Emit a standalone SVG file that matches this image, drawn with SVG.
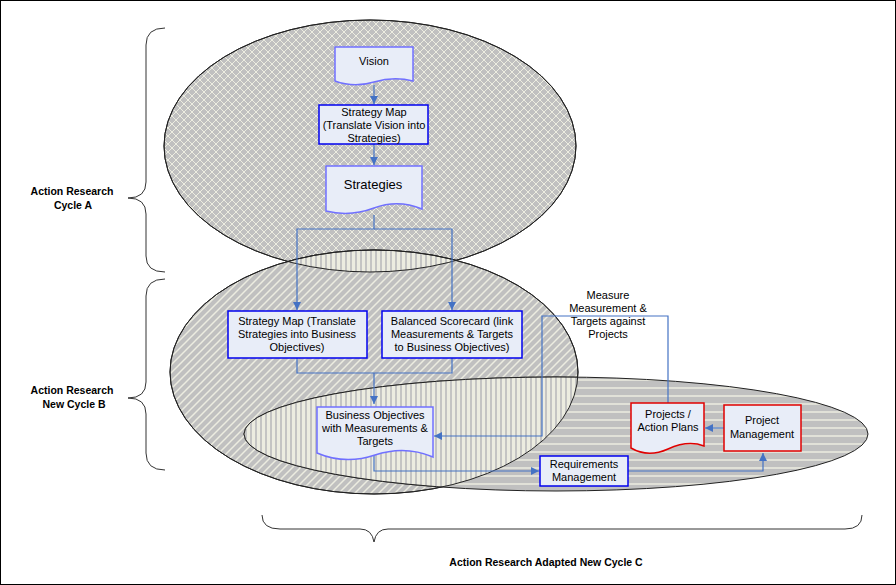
<svg xmlns="http://www.w3.org/2000/svg" width="896" height="585" viewBox="0 0 896 585">
<defs>
<pattern id="pA" width="8" height="8" patternUnits="userSpaceOnUse"><rect width="8" height="8" fill="#c0c0c0"/><path d="M0 0L8 8M8 0L0 8" stroke="#ecece0" stroke-width="1"/></pattern>
<pattern id="pB" width="8" height="8" patternUnits="userSpaceOnUse"><rect width="8" height="8" fill="#c0c0c0"/><path d="M-2 10L10 -2M-2 2L2 -2M6 10L10 6" stroke="#ecece0" stroke-width="1.5"/></pattern>
<pattern id="pC" width="8" height="8" patternUnits="userSpaceOnUse"><rect width="8" height="8" fill="#c0c0c0"/><path d="M0 4H8" stroke="#ecece0" stroke-width="1.5"/></pattern>
<pattern id="pV" width="5" height="5" patternUnits="userSpaceOnUse"><rect width="5" height="5" fill="#ecece0"/><path d="M1 0V5" stroke="#c0c0c0" stroke-width="1.8"/></pattern>
<clipPath id="cA"><ellipse cx="370" cy="146" rx="206" ry="126"/></clipPath>
<clipPath id="cB"><ellipse cx="374" cy="372" rx="204" ry="122"/></clipPath>
<marker id="ar" viewBox="0 0 10 10" refX="10" refY="5" markerWidth="7" markerHeight="7" orient="auto"><path d="M0 0L10 5L0 10z" fill="#4472c4"/></marker>
</defs>
<style>
.t{font-family:"Liberation Sans",Arial,sans-serif;font-size:11px;fill:#000;text-anchor:middle}
.b{font-weight:bold;font-size:10.5px}
.box{fill:#e8edf8;stroke:#0000ee;stroke-width:1.5}
.red{fill:#e8edf8;stroke:#e00000;stroke-width:1.5}
.doc{fill:#e8edf8;stroke:#7070ff;stroke-width:1.5}
.c{fill:none;stroke:#4472c4;stroke-width:1.2}
.br{fill:none;stroke:#333;stroke-width:1}
.el{stroke:#222;stroke-width:1}
</style>
<rect x="0.5" y="0.5" width="895" height="584" fill="#fff" stroke="#000"/>
<g id="ellipses">
<ellipse class="el" cx="370" cy="146" rx="206" ry="126" fill="url(#pA)"/>
<ellipse class="el" cx="374" cy="372" rx="204" ry="122" fill="url(#pB)"/>
<ellipse class="el" cx="556" cy="434" rx="312" ry="57" fill="url(#pC)"/>
<ellipse cx="374" cy="372" rx="204" ry="122" fill="url(#pV)" clip-path="url(#cA)" class="el"/>
<ellipse cx="556" cy="434" rx="312" ry="57" fill="url(#pV)" clip-path="url(#cB)" class="el"/>
<ellipse cx="374" cy="372" rx="204" ry="122" fill="none" class="el"/>
<ellipse cx="370" cy="146" rx="206" ry="126" fill="none" class="el"/>
</g>
<g id="braces">
<path class="br" d="M165 28Q146 28 146 45V182Q146 198 128 198Q146 198 146 214V256Q146 272 165 272"/>
<path class="br" d="M165 279Q146 279 146 296V382Q146 398 128 398Q146 398 146 414V453Q146 470 165 470"/>
<path class="br" d="M262 515Q262 529 280 529H360Q372 529 374 542Q376 529 388 529H845Q862 529 862 515"/>
<text class="t b" x="72" y="195">Action Research</text><text class="t b" x="73" y="209">Cycle A</text>
<text class="t b" x="72" y="394">Action Research</text><text class="t b" x="74" y="408">New Cycle B</text>
<text class="t b" x="546" y="566">Action Research Adapted New Cycle C</text>
</g>
<g id="connectors">
<path class="c" d="M374 85V104" marker-end="url(#ar)"/>
<path class="c" d="M374 144V165" marker-end="url(#ar)"/>
<path class="c" d="M374 215V229H297V310" marker-end="url(#ar)"/>
<path class="c" d="M374 229H452V310" marker-end="url(#ar)"/>
<path class="c" d="M297 358V373H452V358M374 373V404" marker-end="url(#ar)"/>
<path class="c" d="M668 403V316H542V436H434" marker-end="url(#ar)"/>
<path class="c" d="M724 428H705" marker-end="url(#ar)"/>
<path class="c" d="M374 454V471H539" marker-end="url(#ar)"/>
<path class="c" d="M628 471H763V453" marker-end="url(#ar)"/>
</g>
<g id="vision"><path class="doc" d="M335 47H413V81Q394 76 374 82T335 81Z"/><text class="t" x="374" y="65">Vision</text></g>
<g id="smap1"><rect class="box" x="319" y="105" width="109" height="39"/><text class="t" x="374" y="116">Strategy Map</text><text class="t" x="374" y="129">(Translate Vision into</text><text class="t" x="374" y="142">Strategies)</text></g>
<g id="strategies"><path class="doc" d="M326 166H422V209Q398 199 374 208T326 211Z"/><text class="t" x="373" y="189" style="font-size:13px">Strategies</text></g>
<g id="smap2"><rect class="box" x="228" y="311" width="139" height="47"/><text class="t" x="297" y="325">Strategy Map (Translate</text><text class="t" x="297" y="338">Strategies into Business</text><text class="t" x="297" y="351">Objectives)</text></g>
<g id="bsc"><rect class="box" x="382" y="311" width="140" height="47"/><text class="t" x="452" y="325">Balanced Scorecard (link</text><text class="t" x="452" y="338">Measurements &amp; Targets</text><text class="t" x="452" y="351">to Business Objectives)</text></g>
<g id="bo"><path class="doc" d="M317 407H433V457Q405 445 375 455T317 453Z"/><text class="t" x="375" y="419">Business Objectives</text><text class="t" x="375" y="432">with Measurements &amp;</text><text class="t" x="375" y="445">Targets</text></g>
<g id="measure"><text class="t" x="608" y="299">Measure</text><text class="t" x="608" y="312">Measurement &amp;</text><text class="t" x="608" y="325">Targets against</text><text class="t" x="608" y="338">Projects</text></g>
<g id="projects"><path class="red" d="M631 403H704V446Q688 440 668 449T631 448Z"/><text class="t" x="668" y="418">Projects /</text><text class="t" x="668" y="431">Action Plans</text></g>
<g id="pm"><rect class="red" x="724" y="405" width="77" height="46"/><text class="t" x="762" y="424">Project</text><text class="t" x="762" y="438">Management</text></g>
<g id="rm"><rect class="box" x="540" y="456" width="88" height="30"/><text class="t" x="584" y="468">Requirements</text><text class="t" x="584" y="481">Management</text></g>
</svg>
